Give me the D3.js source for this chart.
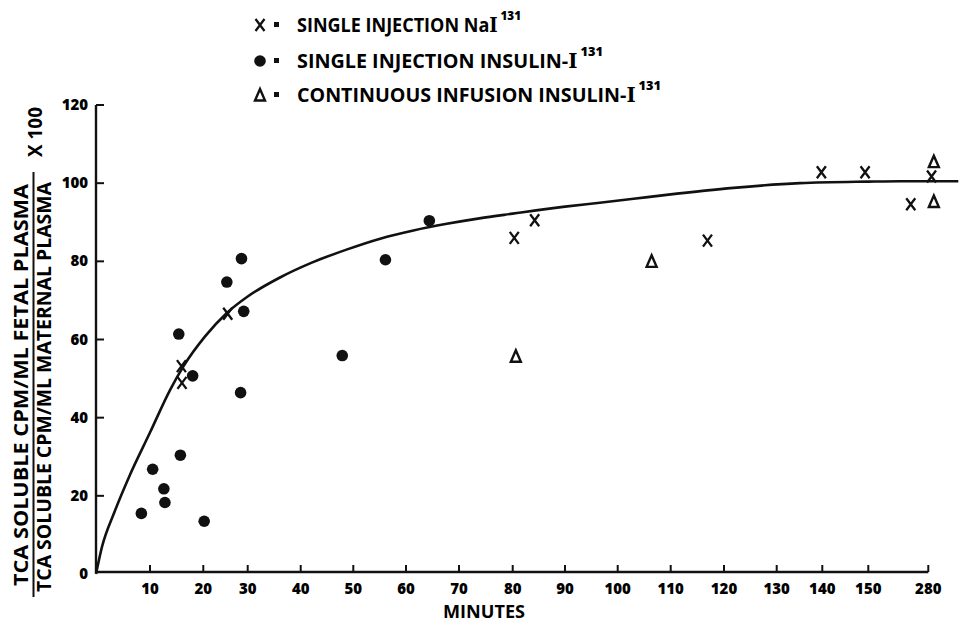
<!DOCTYPE html>
<html>
<head>
<meta charset="utf-8">
<script src="https://cdn.jsdelivr.net/npm/d3@7/dist/d3.min.js"></script>
<style>
  html, body { margin: 0; padding: 0; background: #fff; }
  svg { display: block; }
  text { font-family: "Open Sans", "DejaVu Sans", sans-serif; fill: #000; }
</style>
</head>
<body>
<svg id="chart" width="959" height="624"></svg>
<script>
// ---------- data ----------
const xTicks = [10, 20, 30, 40, 50, 60, 70, 80, 90, 100, 110, 120, 130, 140, 150, 280];
const yTicks = [0, 20, 40, 60, 80, 100, 120];

// single injection NaI-131  [minutes, value]
const naiPoints = [
  [15.9, 53.2], [16.0, 48.9], [25.5, 66.6], [80.3, 86.0], [84.2, 90.5],
  [116.9, 85.3], [139.8, 102.8], [149.3, 102.8], [242, 94.6], [287, 101.7]
];
// single injection insulin-I-131
const insulinSinglePoints = [
  [8.4, 15.5], [10.5, 26.8], [12.6, 21.8], [12.8, 18.3], [15.4, 61.4],
  [15.7, 30.4], [18.0, 50.7], [20.2, 13.5], [25.3, 74.7], [28.4, 46.4],
  [28.6, 80.7], [29.1, 67.2], [47.9, 55.9], [56.1, 80.4], [64.4, 90.4]
];
// continuous infusion insulin-I-131
const infusionPoints = [
  [80.6, 55.7], [106.4, 80.0], [292, 105.5], [292, 95.3]
];
// fitted curve
const curvePoints = [
  [0, 0], [1.1, 6.9], [3.4, 15.8], [6.2, 25.1], [10, 36.2], [13.8, 47.2],
  [16.3, 53.2], [20.4, 60.8], [25.3, 66.8], [30, 71.0], [36, 75.8],
  [42, 79.6], [48.7, 83.0], [55.1, 85.8], [61.4, 87.9], [67.7, 89.6],
  [73.8, 91.0], [80, 92.2], [90, 94.0], [96.6, 95.0], [103, 96.0],
  [109.2, 97.0], [121.8, 98.8], [135.1, 100.0], [150, 100.4], [220, 100.5], [345, 100.5]
];

// ---------- scales (hand-drawn, irregular axis) ----------
const xDomain = [0, 10, 20, 30, 40, 50, 60, 70, 80, 90, 100, 110, 120, 130, 140, 150, 280];
const xRange  = [96, 150, 203.3, 247.7, 300.7, 353.3, 406, 459, 512.7, 565, 617.7, 670.7, 724, 776.7, 822.3, 868.3, 928.3];
const x = d3.scaleLinear().domain(xDomain).range(xRange);
const y = d3.scaleLinear().domain([0, 120]).range([574, 105]);

const svg = d3.select("#chart");
const ink = "#111";

// ---------- axes ----------
const axisY = 572;
svg.append("line").attr("x1", x(0)).attr("x2", x(280)).attr("y1", axisY).attr("y2", axisY)
  .attr("stroke", ink).attr("stroke-width", 2.4);
svg.append("g").selectAll("line").data(xTicks).join("line")
  .attr("x1", d => x(d)).attr("x2", d => x(d))
  .attr("y1", axisY).attr("y2", axisY - 7)
  .attr("stroke", ink).attr("stroke-width", 2);
svg.append("g").selectAll("text").data(xTicks).join("text")
  .attr("x", d => x(d)).attr("y", 594)
  .attr("text-anchor", "middle")
  .attr("font-size", 15).attr("font-weight", 800)
  .text(d => d);

svg.append("line").attr("x1", x(0)).attr("x2", x(0)).attr("y1", y(120)).attr("y2", axisY + 1)
  .attr("stroke", ink).attr("stroke-width", 2.4);
svg.append("g").selectAll("line").data(yTicks.filter(d => d > 0)).join("line")
  .attr("x1", x(0)).attr("x2", x(0) + 8)
  .attr("y1", d => y(d)).attr("y2", d => y(d))
  .attr("stroke", ink).attr("stroke-width", 2);
svg.append("g").selectAll("text").data(yTicks).join("text")
  .attr("x", 88).attr("y", d => y(d) + 5)
  .attr("text-anchor", "end")
  .attr("font-size", 15).attr("font-weight", 800)
  .text(d => d);

// axis titles
svg.append("text").attr("x", 443).attr("y", 618)
  .attr("font-size", 18).attr("font-weight", 700)
  .attr("textLength", 82).attr("lengthAdjust", "spacingAndGlyphs")
  .text("MINUTES");

function vText(xb, yStart, len, str, size) {
  svg.append("text")
    .attr("transform", `translate(${xb},${yStart}) rotate(-90)`)
    .attr("font-size", size).attr("font-weight", 700)
    .attr("textLength", len).attr("lengthAdjust", "spacingAndGlyphs")
    .text(str);
}
vText(28, 586, 402, "TCA SOLUBLE CPM/ML FETAL PLASMA", 19);
vText(51, 592, 410, "TCA SOLUBLE CPM/ML MATERNAL PLASMA", 19);
vText(42, 157, 50, "X 100", 19);
svg.append("line").attr("x1", 33.5).attr("x2", 33.5).attr("y1", 597).attr("y2", 172)
  .attr("stroke", ink).attr("stroke-width", 2);

// ---------- curve ----------
svg.append("path")
  .datum(curvePoints)
  .attr("fill", "none").attr("stroke", ink).attr("stroke-width", 2.6)
  .attr("stroke-linejoin", "round")
  .attr("d", d3.line().x(d => x(d[0])).y(d => y(d[1])).curve(d3.curveMonotoneX));

// ---------- markers ----------
function drawX(g, cx, cy) {
  g.append("path")
    .attr("d", `M${cx - 4.5},${cy - 6}L${cx + 4.5},${cy + 6}M${cx + 4.5},${cy - 6}L${cx - 4.5},${cy + 6}`)
    .attr("stroke", ink).attr("stroke-width", 2.3).attr("fill", "none");
}
function drawDot(g, cx, cy) {
  g.append("circle").attr("cx", cx).attr("cy", cy).attr("r", 5.8).attr("fill", ink);
}
function drawTri(g, cx, cy) {
  g.append("path")
    .attr("d", `M${cx},${cy - 6}L${cx + 5},${cy + 5.5}L${cx - 5},${cy + 5.5}Z`)
    .attr("stroke", ink).attr("stroke-width", 2.4).attr("fill", "none")
    .attr("stroke-linejoin", "miter");
}

const gm = svg.append("g");
insulinSinglePoints.forEach(d => drawDot(gm, x(d[0]), y(d[1])));
naiPoints.forEach(d => drawX(gm, x(d[0]), y(d[1])));
infusionPoints.forEach(d => drawTri(gm, x(d[0]), y(d[1])));

// ---------- legend ----------
const legendItems = [
  { draw: drawX,   main: "SINGLE INJECTION Na", tail: "I", len: 224, base: 32 },
  { draw: drawDot, main: "SINGLE INJECTION INSULIN-", tail: "I", len: 306, base: 68 },
  { draw: drawTri, main: "CONTINUOUS INFUSION INSULIN-", tail: "I", len: 364, base: 102 }
];
const gl = svg.append("g");
legendItems.forEach(it => {
  it.draw(gl, 260, it.base - 7);
  gl.append("rect").attr("x", 274).attr("y", it.base - 10).attr("width", 5).attr("height", 5).attr("fill", ink);
  const t = gl.append("text").attr("x", 297).attr("y", it.base)
    .attr("font-size", 20).attr("font-weight", 700)
    .attr("textLength", it.len).attr("lengthAdjust", "spacingAndGlyphs");
  t.append("tspan").text(it.main);
  t.append("tspan").attr("font-family", "'DejaVu Serif', serif").attr("font-weight", 700).text(it.tail);
  t.append("tspan").attr("dy", -12).attr("dx", 3)
    .attr("font-size", 13).attr("font-weight", 800)
    .text("131");
});
</script>
</body>
</html>
